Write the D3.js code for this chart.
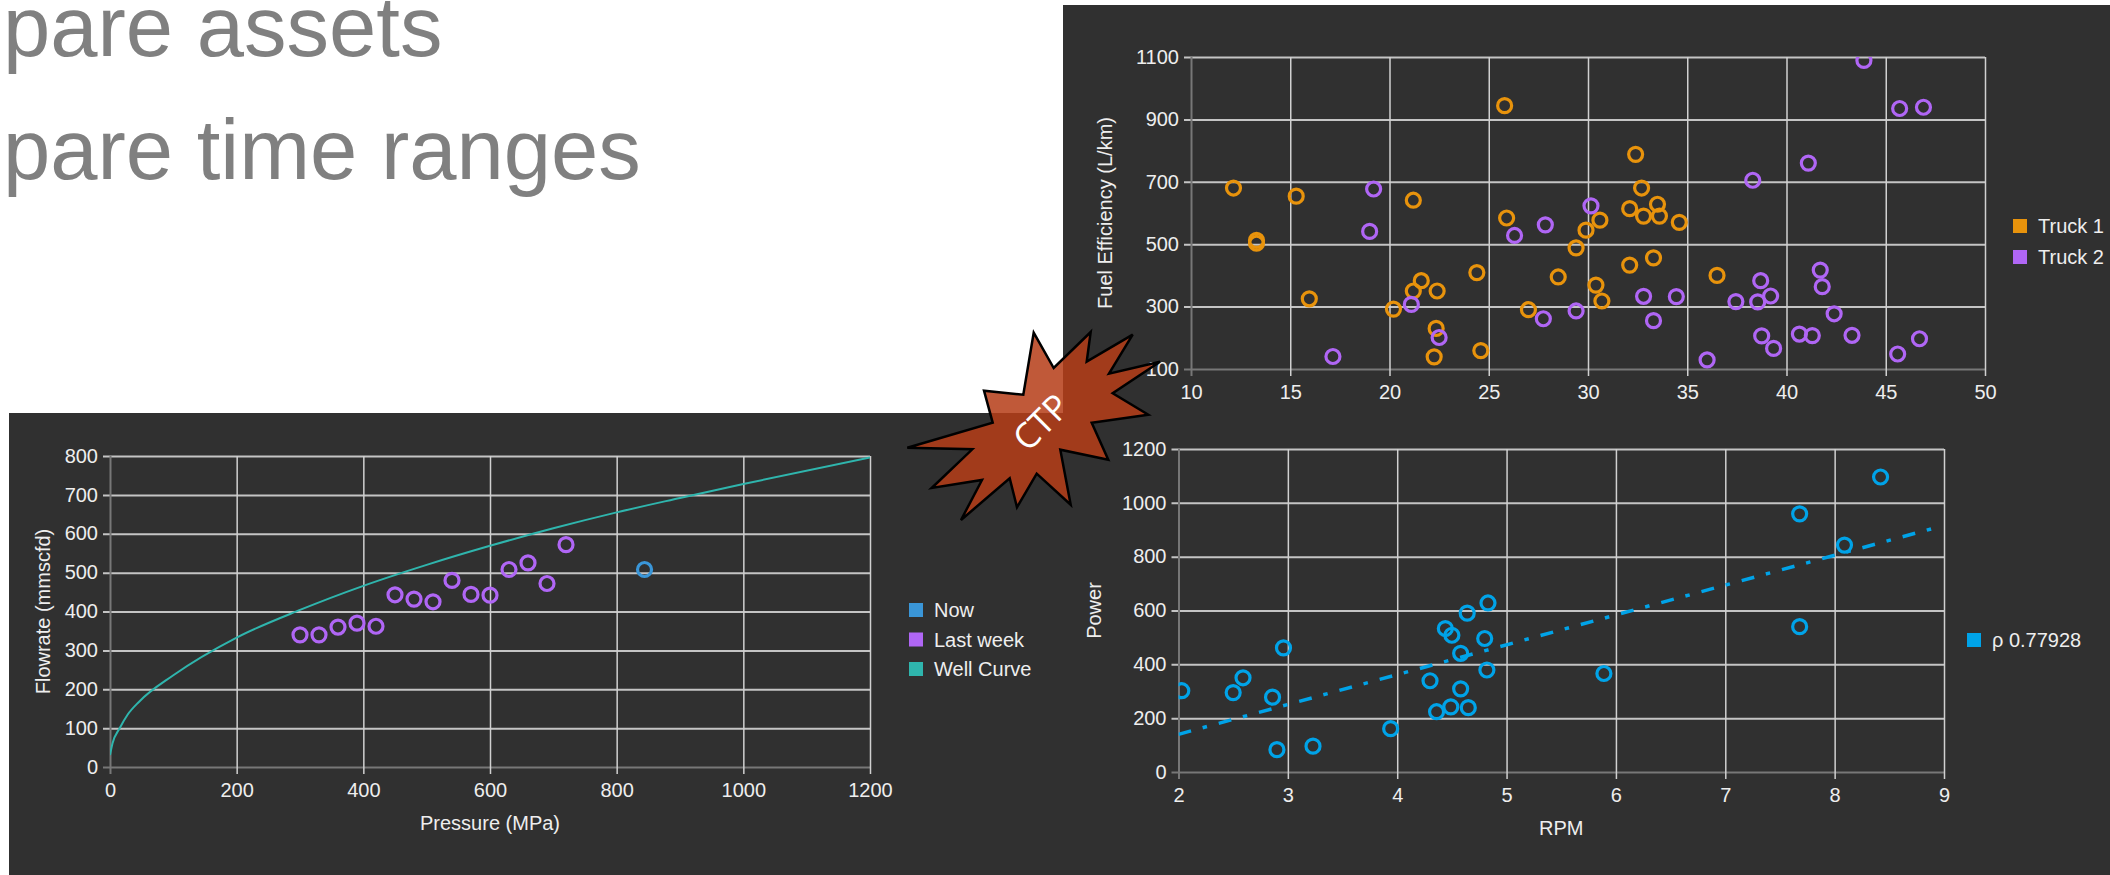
<!DOCTYPE html>
<html>
<head>
<meta charset="utf-8">
<script src="https://cdnjs.cloudflare.com/ajax/libs/d3/7.8.5/d3.min.js"></script>
<style>
body { margin: 0; background: #fff; }
text { font-family: "Liberation Sans", Arial, sans-serif; }
</style>
</head>
<body>
<div id="chart"></div>
<script>
// slide text left over from the cropped screenshot
const headingLines = ["pare assets", "pare time ranges"];

// top right chart
const truck1X = [12.14, 15.3, 13.3, 13.3, 15.96, 21.2, 21.6, 21.2, 22.4, 20.2, 22.35, 22.25, 24.6, 24.4, 25.9, 25.8, 27.0, 28.5, 29.4, 29.9, 30.4, 30.7, 30.6, 32.1, 32.1, 32.4, 32.7, 32.8, 33.5, 33.6, 33.3, 34.6, 36.5];
const truck1Y = [680, 654, 512, 503, 325, 641, 383, 350, 350, 292, 230, 139, 159, 409, 584, 944, 290, 395, 488, 545, 369, 318, 577, 433, 614, 788, 680, 590, 628, 590, 456, 570, 400];
const truck2X = [17.15, 19.0, 19.2, 21.1, 22.5, 26.3, 27.85, 27.75, 29.4, 30.15, 32.8, 33.3, 34.45, 36.0, 37.45, 38.3, 38.55, 38.7, 39.2, 38.75, 39.35, 40.65, 41.3, 41.1, 41.7, 41.8, 42.4, 43.3, 43.9, 45.6, 45.7, 46.7, 46.9];
const truck2Y = [140, 541, 677, 307, 201, 528, 562, 261, 286, 623, 333, 255, 332, 129, 316, 705, 315, 383, 334, 206, 166, 212, 207, 760, 417, 364, 277, 208, 1089, 148, 935, 197, 939];
const efficiencyXTicks = [10, 15, 20, 25, 30, 35, 40, 45, 50];
const efficiencyYTicks = [100, 300, 500, 700, 900, 1100];

// bottom right chart
const rpmValues = [2.03, 2.5, 2.59, 2.86, 2.9, 2.96, 3.23, 3.94, 4.3, 4.36, 4.49, 4.65, 4.58, 4.44, 4.5, 4.58, 4.64, 4.8, 4.82, 4.83, 5.89, 7.68, 7.68, 8.09, 8.42];
const powerValues = [302, 295, 350, 278, 83, 461, 96, 161, 339, 224, 242, 239, 309, 533, 508, 441, 590, 496, 379, 628, 366, 540, 959, 843, 1096];
const trendRpm = [2, 8.9];
const trendPower = [140, 905];
const rpmTicks = [2, 3, 4, 5, 6, 7, 8, 9];
const powerTicks = [0, 200, 400, 600, 800, 1000, 1200];

// bottom left chart
const lastWeekPressure = [300, 330, 360, 390, 420, 450, 480, 510, 540, 570, 600, 630, 660, 690, 720];
const lastWeekFlow = [340, 340, 360, 370, 362, 443, 432, 425, 480, 444, 442, 508, 525, 472, 572];
const nowPressure = [844];
const nowFlow = [508];
const curvePressure = [0, 4, 15, 28, 46, 100, 200, 300, 400, 500, 600, 700, 800, 900, 1000, 1200];
const curveFlow = [31, 61, 99, 135, 168, 236, 333, 404, 466, 520, 569, 614, 655, 692, 728, 796];
const pressureTicks = [0, 200, 400, 600, 800, 1000, 1200];
const flowTicks = [0, 100, 200, 300, 400, 500, 600, 700, 800];

const orange = "#e8930c";
const purple = "#b066f5";
const blue = "#00a3e8";
const nowBlue = "#3a96d8";
const teal = "#2fb5ad";
const panelFill = "#303030";
const labelFill = "#eeeeee";
const labelSize = 20;

const svg = d3.select("#chart").append("svg")
    .attr("width", 2110)
    .attr("height", 875)
    .style("display", "block");

svg.append("rect").attr("x", 1063).attr("y", 5).attr("width", 1047).attr("height", 870).attr("fill", panelFill);
svg.append("rect").attr("x", 9).attr("y", 413).attr("width", 1060).attr("height", 462).attr("fill", panelFill);

svg.selectAll("text.heading")
    .data(headingLines)
    .enter()
    .append("text")
    .attr("class", "heading")
    .attr("x", 3)
    .attr("y", (d, i) => 56 + i * 122.5)
    .attr("fill", "#808080")
    .attr("font-size", 85)
    .text(d => d);

function drawPlot(id, box, xDomain, yDomain, xTicks, yTicks, xTitle, yTitle) {
    const x = d3.scaleLinear().domain(xDomain).range([box.left, box.right]);
    const y = d3.scaleLinear().domain(yDomain).range([box.bottom, box.top]);

    svg.append("clipPath").attr("id", id)
        .append("rect")
        .attr("x", box.left).attr("y", box.top)
        .attr("width", box.right - box.left).attr("height", box.bottom - box.top);

    const yAxis = svg.append("g")
        .attr("transform", `translate(${box.left},0)`)
        .call(d3.axisLeft(y).tickValues(yTicks).tickSize(box.right - box.left).tickFormat(d3.format("d")));
    yAxis.selectAll(".tick line")
        .attr("x1", -7)
        .attr("x2", box.right - box.left)
        .attr("stroke", d => d === yDomain[0] ? "#777777" : "#c4c4c4")
        .attr("stroke-width", 2);

    const xAxis = svg.append("g")
        .attr("transform", `translate(0,${box.bottom})`)
        .call(d3.axisBottom(x).tickValues(xTicks).tickSize(7).tickFormat(d3.format("d")));
    xAxis.selectAll(".tick line")
        .attr("y1", box.top - box.bottom)
        .attr("y2", 7)
        .attr("stroke", d => d === xDomain[0] ? "#777777" : "#d0d0d0")
        .attr("stroke-width", d => d === xDomain[0] ? 2 : 1.5);

    svg.selectAll(".domain").remove();
    yAxis.selectAll("text").attr("x", -12).attr("dy", "0.31em");
    xAxis.selectAll("text").attr("y", 16).attr("dy", "0.71em");
    svg.selectAll(".tick text")
        .attr("fill", labelFill)
        .attr("font-size", labelSize)
        .style("font-family", '"Liberation Sans", Arial, sans-serif');

    if (xTitle) {
        svg.append("text")
            .attr("x", (box.left + box.right) / 2)
            .attr("y", box.bottom + 63)
            .attr("text-anchor", "middle")
            .attr("fill", labelFill)
            .attr("font-size", labelSize)
            .text(xTitle);
    }
    svg.append("text")
        .attr("transform", `translate(${box.left - box.titleGap},${(box.top + box.bottom) / 2}) rotate(-90)`)
        .attr("text-anchor", "middle")
        .attr("fill", labelFill)
        .attr("font-size", labelSize)
        .text(yTitle);

    return { x, y, marks: svg.append("g").attr("clip-path", `url(#${id})`) };
}

function addRings(plot, xs, ys, color) {
    plot.marks.selectAll(null)
        .data(xs)
        .enter()
        .append("circle")
        .attr("cx", d => plot.x(d))
        .attr("cy", (d, i) => plot.y(ys[i]))
        .attr("r", 7)
        .attr("fill", "none")
        .attr("stroke", color)
        .attr("stroke-width", 3.2);
}

function addLegend(x, y, rowGap, items) {
    items.forEach((item, i) => {
        svg.append("rect")
            .attr("x", x).attr("y", y + i * rowGap - 7)
            .attr("width", 14).attr("height", 14)
            .attr("fill", item.color);
        svg.append("text")
            .attr("x", x + 25).attr("y", y + i * rowGap + 7)
            .attr("fill", labelFill)
            .attr("font-size", labelSize)
            .text(item.label);
    });
}

// Fuel efficiency
const efficiencyPlot = drawPlot("clip-efficiency",
    { left: 1191, right: 1985, top: 57, bottom: 369, titleGap: 79 },
    [10, 50], [100, 1100], efficiencyXTicks, efficiencyYTicks, null, "Fuel Efficiency (L/km)");
addRings(efficiencyPlot, truck1X, truck1Y, orange);
addRings(efficiencyPlot, truck2X, truck2Y, purple);
addLegend(2013, 226, 31, [{ label: "Truck 1", color: orange }, { label: "Truck 2", color: purple }]);

// RPM vs power
const powerPlot = drawPlot("clip-power",
    { left: 1178.5, right: 1944, top: 449, bottom: 772, titleGap: 78 },
    [2, 9], [0, 1200], rpmTicks, powerTicks, "RPM", "Power");
powerPlot.marks.append("path")
    .datum(trendRpm)
    .attr("d", d3.line().x(d => powerPlot.x(d)).y((d, i) => powerPlot.y(trendPower[i])))
    .attr("fill", "none")
    .attr("stroke", blue)
    .attr("stroke-width", 3.5)
    .attr("stroke-dasharray", "13 12 4.5 12.2");
addRings(powerPlot, rpmValues, powerValues, blue);
addLegend(1967, 640, 30, [{ label: "ρ 0.77928", color: blue }]);

// Pressure vs flowrate
const wellPlot = drawPlot("clip-well",
    { left: 110, right: 870, top: 456, bottom: 767, titleGap: 60 },
    [0, 1200], [0, 800], pressureTicks, flowTicks, "Pressure (MPa)", "Flowrate (mmscfd)");
wellPlot.marks.append("path")
    .datum(curvePressure)
    .attr("d", d3.line().x(d => wellPlot.x(d)).y((d, i) => wellPlot.y(curveFlow[i])).curve(d3.curveMonotoneX))
    .attr("fill", "none")
    .attr("stroke", teal)
    .attr("stroke-width", 2);
addRings(wellPlot, lastWeekPressure, lastWeekFlow, purple);
addRings(wellPlot, nowPressure, nowFlow, nowBlue);
addLegend(909, 610, 29.5, [
    { label: "Now", color: nowBlue },
    { label: "Last week", color: purple },
    { label: "Well Curve", color: teal }
]);

// CTP burst on top of everything
const burstOutline = [
    [1033.7, 332.7], [1053.7, 368], [1090.7, 332], [1086.7, 361.7], [1132.7, 334.7], [1109, 373.7],
    [1160, 361.7], [1112.7, 393.3], [1148.3, 414.7], [1091.7, 422.7], [1108.3, 459.7], [1060.3, 449.7],
    [1070.7, 504.7], [1036.7, 473.7], [1017, 507.3], [1009.7, 478.3], [961, 520], [982, 480],
    [931.7, 488], [972.3, 449.3], [907.3, 447.7], [992.7, 422.7], [984, 390.7], [1023.3, 394.7]
];
svg.append("polygon")
    .attr("points", burstOutline.join(" "))
    .attr("fill", "#b63e18")
    .attr("fill-opacity", 0.86)
    .attr("stroke", "#000")
    .attr("stroke-width", 2.5)
    .attr("stroke-linejoin", "miter");
svg.append("text")
    .attr("transform", "translate(1041,422) rotate(-45)")
    .attr("text-anchor", "middle")
    .attr("dy", "0.36em")
    .attr("fill", "#fff")
    .attr("font-size", 35)
    .style("font-family", '"Open Sans", sans-serif')
    .text("CTP");
</script>
</body>
</html>
